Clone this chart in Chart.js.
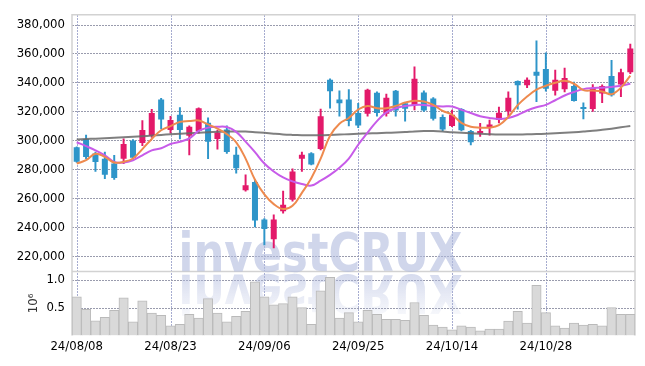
<!DOCTYPE html>
<html>
<head>
<meta charset="utf-8">
<script src="https://cdn.jsdelivr.net/npm/chart.js@4.4.1/dist/chart.umd.min.js"></script>
<style>
  html, body { margin: 0; padding: 0; background: #fff; }
  #wrap { width: 645px; height: 366px; }
</style>
</head>
<body>
<div id="wrap"><canvas id="chart" width="645" height="366"></canvas></div>
<script>
// trading days (yy/mm/dd)
const dates = [
  '24/08/08','24/08/09','24/08/12','24/08/13','24/08/14','24/08/16','24/08/19','24/08/20','24/08/21','24/08/22',
  '24/08/23','24/08/26','24/08/27','24/08/28','24/08/29','24/08/30','24/09/02','24/09/03','24/09/04','24/09/05',
  '24/09/06','24/09/09','24/09/10','24/09/11','24/09/12','24/09/13','24/09/19','24/09/20','24/09/23','24/09/24',
  '24/09/25','24/09/26','24/09/27','24/09/30','24/10/02','24/10/04','24/10/07','24/10/08','24/10/10','24/10/11',
  '24/10/14','24/10/15','24/10/16','24/10/17','24/10/18','24/10/21','24/10/22','24/10/23','24/10/24','24/10/25',
  '24/10/28','24/10/29','24/10/30','24/10/31','24/11/01','24/11/04','24/11/05','24/11/06','24/11/07','24/11/08'
];

// prices in thousands
const openP = [
  295.3, 301.0, 291.0, 287.4, 284.0, 287.4, 300.0, 298.2, 303.2, 328.3,
  307.2, 317.7, 303.2, 306.5, 312.1, 300.9, 307.6, 290.1, 265.6, 271.2,
  245.4, 231.7, 251.0, 259.0, 287.4, 291.2, 294.1, 341.8, 328.3, 328.3,
  318.9, 318.4, 332.8, 318.4, 334.2, 325.6, 324.5, 333.0, 329.0, 316.2,
  309.9, 321.6, 306.5, 305.0, 309.2, 314.0, 320.0, 341.0, 338.0, 347.4,
  349.2, 334.2, 335.3, 337.5, 322.9, 321.6, 332.3, 344.5, 338.6, 347.0
];
const highP = [
  295.6, 303.6, 292.0, 292.0, 289.7, 301.0, 300.5, 313.7, 321.5, 329.0,
  316.6, 322.7, 310.0, 322.5, 315.5, 307.0, 310.0, 295.3, 276.2, 272.8,
  246.0, 248.6, 265.0, 280.3, 292.0, 291.5, 321.6, 342.5, 334.2, 335.0,
  325.6, 335.5, 333.5, 332.0, 334.5, 326.0, 350.8, 334.2, 329.5, 317.7,
  321.0, 322.0, 307.0, 311.7, 314.0, 323.0, 333.5, 341.2, 343.1, 368.7,
  360.5, 348.5, 349.9, 340.2, 326.0, 338.6, 338.4, 355.3, 349.2, 366.5
];
const lowP = [
  284.8, 287.4, 278.5, 273.5, 273.0, 284.0, 287.5, 296.4, 302.0, 308.0,
  305.0, 301.0, 290.0, 305.0, 287.4, 294.0, 291.0, 277.3, 265.0, 240.2,
  227.9, 225.7, 249.7, 258.0, 278.5, 283.0, 293.5, 322.2, 316.7, 310.0,
  308.8, 316.7, 316.7, 316.7, 316.7, 313.3, 321.1, 320.0, 314.0, 306.5,
  309.5, 306.5, 296.8, 302.7, 303.6, 312.1, 316.7, 321.6, 336.4, 326.8,
  334.0, 331.2, 333.5, 327.0, 314.8, 320.0, 326.0, 330.5, 330.1, 346.0
];
const closeP = [
  285.2, 288.6, 285.0, 276.2, 274.0, 297.5, 288.0, 307.2, 318.9, 314.4,
  314.0, 307.2, 309.4, 322.2, 299.1, 305.4, 291.9, 280.7, 269.0, 244.7,
  238.9, 245.4, 255.5, 278.5, 290.1, 283.4, 316.7, 333.9, 325.6, 313.3,
  310.3, 335.0, 318.9, 329.5, 320.7, 321.8, 342.5, 320.7, 315.0, 307.6,
  317.7, 307.0, 298.7, 306.5, 311.0, 319.0, 329.5, 338.0, 341.8, 344.7,
  335.7, 341.8, 343.1, 327.2, 321.6, 336.2, 337.5, 331.2, 347.0, 363.4
];

// moving averages (thousands)
const maShort = [
  284.0, 286.3, 290.8, 288.6, 284.7, 285.2, 287.5, 294.0, 301.0, 307.0,
  309.9, 312.8, 313.3, 313.7, 311.0, 308.1, 304.3, 298.7, 287.4, 272.8,
  262.7, 256.0, 252.6, 254.8, 263.8, 273.9, 287.4, 303.2, 311.5, 315.5,
  321.3, 323.8, 322.2, 322.2, 323.8, 326.1, 327.4, 326.8, 324.5, 320.4,
  317.7, 312.1, 309.4, 308.8, 308.8, 310.5, 316.2, 324.3, 330.3, 335.0,
  337.7, 339.8, 341.1, 339.1, 334.7, 334.4, 333.7, 331.9, 336.4, 344.7
];
const maMid = [
  298.7, 296.0, 293.1, 289.7, 285.2, 284.7, 286.3, 289.7, 293.1, 294.6,
  297.5, 299.1, 301.4, 306.5, 308.8, 309.4, 309.2, 305.9, 299.1, 291.9,
  284.0, 278.5, 274.4, 271.7, 269.9, 268.8, 272.2, 276.2, 281.1, 287.4,
  297.0, 305.4, 313.3, 319.3, 322.2, 323.8, 324.5, 324.5, 323.8, 323.4,
  323.4, 321.1, 318.9, 316.7, 315.5, 314.8, 315.5, 317.5, 320.6, 322.9,
  324.5, 327.7, 331.0, 333.4, 335.4, 336.1, 336.4, 336.9, 337.7, 339.1
];
const maLong = [
  300.6, 300.9, 301.2, 301.5, 301.8, 302.2, 302.5, 302.9, 303.3, 303.8,
  304.2, 304.6, 305.0, 305.3, 305.6, 305.9, 306.1, 306.2, 306.1, 305.7,
  305.2, 304.6, 304.1, 303.8, 303.6, 303.5, 303.5, 303.7, 304.0, 304.3,
  304.6, 304.8, 305.0, 305.2, 305.5, 305.8, 306.2, 306.4, 306.4, 306.1,
  305.6, 305.2, 304.9, 304.5, 304.2, 304.0, 304.0, 304.1, 304.2, 304.4,
  304.6, 304.9, 305.2, 305.6, 306.1, 306.6, 307.3, 308.1, 309.0, 310.0
];

// volume in millions of shares
const volume = [
  0.69, 0.47, 0.26, 0.325, 0.45, 0.675, 0.243, 0.62, 0.40, 0.36,
  0.17, 0.20, 0.38, 0.31, 0.66, 0.40, 0.243, 0.34, 0.43, 0.96,
  0.69, 0.55, 0.57, 0.69, 0.50, 0.20, 0.80, 1.04, 0.31, 0.41,
  0.243, 0.45, 0.38, 0.29, 0.29, 0.27, 0.59, 0.36, 0.185, 0.15,
  0.098, 0.17, 0.15, 0.08, 0.115, 0.115, 0.255, 0.43, 0.22, 0.90,
  0.41, 0.17, 0.13, 0.22, 0.185, 0.20, 0.17, 0.50, 0.38, 0.38
];

const priceTicks = [220000, 240000, 260000, 280000, 300000, 320000, 340000, 360000, 380000];
const volTicks = [0.5, 1.0];

const UP = '#e3196a';
const DOWN = '#2e95c9';
const GRID_H = '#999bad';
const GRID_V = '#a6acd0';
const FONT = { family: '"DejaVu Sans Condensed", "DejaVu Sans", sans-serif', size: 13 };
const TXT = '#000';

const k = v => v * 1000;
const candleColor = openP.map((o, i) => closeP[i] >= o ? UP : DOWN);

// dotted grid (drawn dot by dot), frame and watermark
const decor = {
  id: 'decor',
  beforeDatasetsDraw(chart) {
    const { ctx, chartArea: a, scales } = chart;
    ctx.save();

    ctx.fillStyle = GRID_V;
    scales.x.ticks.forEach((t, i) => {
      if (i % 10 !== 0) return;
      const x = Math.round(scales.x.getPixelForTick(i));
      for (let y = Math.ceil(a.top); y < a.bottom; y += 3) ctx.fillRect(x, y, 1, 2);
    });
    ctx.fillStyle = GRID_H;
    [scales.y, scales.yv].forEach(s => s.ticks.forEach(t => {
      const y = Math.round(s.getPixelForValue(t.value));
      for (let x = Math.ceil(a.left); x < a.right; x += 3) ctx.fillRect(x, y, 2, 1);
    }));

    ctx.strokeStyle = '#d2d2d2';
    ctx.lineWidth = 1.5;
    ctx.beginPath();
    ctx.moveTo(a.left, a.bottom); ctx.lineTo(a.left, a.top);
    ctx.lineTo(a.right, a.top); ctx.lineTo(a.right, a.bottom);
    ctx.moveTo(a.left, scales.y.bottom); ctx.lineTo(a.right, scales.y.bottom);
    ctx.stroke();

    const text = 'investCRUX';
    ctx.font = 'bold 54px "DejaVu Sans"';
    ctx.textAlign = 'center';
    ctx.textBaseline = 'alphabetic';
    const sx = (chart.width * 0.44) / ctx.measureText(text).width;
    const cx = chart.width / 2 - 2;
    const base = scales.y.bottom;

    ctx.save();
    ctx.translate(cx, base);
    ctx.scale(sx, 1);
    ctx.fillStyle = 'rgba(176,186,222,0.6)';
    ctx.fillText(text, 0, 0);
    ctx.restore();

    ctx.save();
    ctx.translate(cx, base + 4);
    ctx.scale(sx, -1);
    const g = ctx.createLinearGradient(0, 0, 0, -40);
    g.addColorStop(0, 'rgba(176,186,222,0.5)');
    g.addColorStop(1, 'rgba(176,186,222,0.1)');
    ctx.fillStyle = g;
    ctx.fillText(text, 0, 0);
    ctx.restore();

    ctx.restore();
  }
};

new Chart(document.getElementById('chart'), {
  type: 'bar',
  data: {
    labels: dates,
    datasets: [
      { type: 'line', label: 'MA5', data: maShort.map(k), borderColor: '#ee8a4e', borderWidth: 2,
        pointRadius: 0, tension: 0.4, yAxisID: 'y', order: 0 },
      { type: 'line', label: 'MA20', data: maMid.map(k), borderColor: '#c75be9', borderWidth: 2,
        pointRadius: 0, tension: 0.4, yAxisID: 'y', order: 0 },
      { type: 'line', label: 'MA120', data: maLong.map(k), borderColor: 'rgba(105,105,105,0.85)', borderWidth: 2,
        pointRadius: 0, tension: 0.4, yAxisID: 'y', order: 0 },
      { label: 'body', data: openP.map((o, i) => [k(o), k(closeP[i])]), backgroundColor: candleColor,
        grouped: false, barPercentage: 0.64, categoryPercentage: 1, minBarLength: 2, yAxisID: 'y', order: 1 },
      { label: 'wick', data: lowP.map((l, i) => [k(l), k(highP[i])]), backgroundColor: candleColor,
        grouped: false, barThickness: 1.3, yAxisID: 'y', order: 2 },
      { label: 'volume', data: volume, backgroundColor: '#d9d9d9', borderColor: '#bababa', borderWidth: 1,
        grouped: false, barPercentage: 1, categoryPercentage: 1, yAxisID: 'yv', order: 3 }
    ]
  },
  options: {
    responsive: false,
    animation: false,
    layout: { padding: { top: 9, right: 10, bottom: 9, left: 0 } },
    plugins: { legend: { display: false }, tooltip: { enabled: false } },
    scales: {
      x: {
        offset: true,
        grid: { display: false, drawTicks: false },
        border: { display: false },
        ticks: { autoSkip: false, maxRotation: 0, padding: 3, font: FONT, color: TXT,
          callback: (v, i) => i % 10 === 0 ? dates[i] : '' }
      },
      yv: {
        type: 'linear', position: 'left', stack: 'panels', stackWeight: 65.5,
        min: 0, max: 1.147,
        afterBuildTicks: s => { s.ticks = volTicks.map(v => ({ value: v })); },
        afterFit: s => { s.width = 72; },
        grid: { display: false, drawTicks: false },
        border: { display: false },
        ticks: { autoSkip: false, padding: 7, font: FONT, color: TXT, callback: v => v.toFixed(1) },
        title: { display: true, text: '10⁶', font: FONT, color: '#333', padding: { top: 26, bottom: 0 } }
      },
      y: {
        type: 'linear', position: 'left', stack: 'panels', stackWeight: 263,
        min: 209500, max: 386700,
        afterBuildTicks: s => { s.ticks = priceTicks.map(v => ({ value: v })); },
        afterFit: s => { s.width = 72; },
        grid: { display: false, drawTicks: false },
        border: { display: false },
        ticks: { autoSkip: false, padding: 7, font: FONT, color: TXT, callback: v => v.toLocaleString('en-US') }
      }
    }
  },
  plugins: [decor]
});
</script>
</body>
</html>
